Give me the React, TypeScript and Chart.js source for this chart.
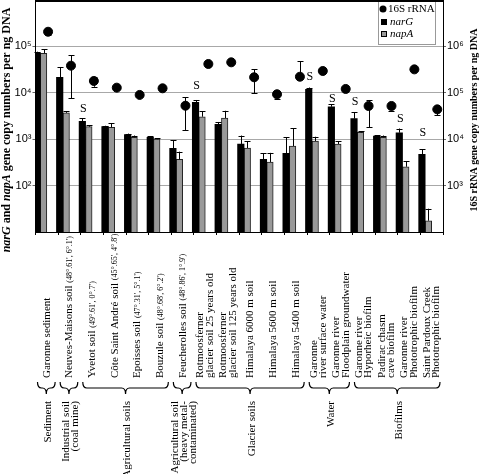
import React, { useEffect, useRef } from 'react';
import { Chart, registerables } from 'chart.js';

Chart.register(...registerables);

// ---------- data ----------
const categoryNames = [
  'Garonne sediment',
  'Neuves-Maisons soil',
  'Yvetot soil',
  'Côte Saint André soil',
  'Epoisses soil',
  'Bouzule soil',
  'Feucherolles soil',
  'Rotmoosferner|glacier soil 25 years old',
  'Rotmoosferner|glacier soil 125 years old',
  'Himalaya 6000 m soil',
  'Himalaya 5600 m soil',
  'Himalaya 5400 m soil',
  'Garonne|river surface water',
  'Garonne river|Floodplain groundwater',
  'Garonne river|Hyporheic biofilm',
  'Padirac chasm|cave biofilm',
  'Garonne river|Phototrophic biofilm',
  'Saint Pardoux Creek|Phototrophic biofilm',
];
const categoryCoords = [
  '', "(48°.61', 6°.1')", "(49°.61', 0°.7')", "(45°.65', 4°.8')", "(47°.31', 5°.1')",
  "(48°.68', 6°.2')", "(48°.86', 1°.9')", '', '', '', '', '', '', '', '', '', '', '',
];

const groupNames = [
  'Sediment',
  'Industrial soil|(coal mine)',
  'Agricultural soils',
  'Agricultural soil|(heavy metal-|contaminated)',
  'Glacier soils',
  'Water',
  'Biofilms',
];
const groupFirst = [0, 1, 2, 6, 7, 12, 14];
const groupLast = [0, 1, 5, 6, 11, 13, 17];

const narG = [7.3e4, 2.16e4, 2.43e3, 1.86e3, 1.25e3, 1.1e3, 637, 6.2e3, 2.1e3, 789, 369, 497, 1.19e4, 5.0e3, 2.77e3, 1.17e3, 1.38e3, 472];
const narGHigh = [7.7e4, 3.6e4, 2.8e3, 1.95e3, 1.32e3, 1.15e3, 960, 7.0e3, 2.35e3, 1.2e3, 497, 1.11e3, 1.3e4, 5.6e3, 3.8e3, 1.22e3, 1.7e3, 610];
const napA = [7.1e4, 3.7e3, 1.86e3, 1.8e3, 1.1e3, 1.0e3, 369, 3.05e3, 2.86e3, 646, 323, 713, 912, 789, 1.4e3, 1.1e3, 255, 17.5];
const napAHigh = [8.7e4, 4.0e3, 2.0e3, 2.2e3, 1.2e3, 1.05e3, 540, 4.0e3, 4.1e3, 912, 508, 1.74e3, 1.13e3, 900, 1.5e3, 1.2e3, 338, 31.8];

const rrna16S = [2.07e6, 3.84e5, 1.8e5, 1.29e5, 9.0e4, 1.25e5, 5.27e4, 4.18e5, 4.54e5, 2.16e5, 9.3e4, 2.22e5, 2.95e5, 1.21e5, 5.2e4, 5.2e4, 3.2e5, 4.4e4];
const rrnaLow = [1.73e6, 7.6e4, 1.35e5, 1.2e5, 8.5e4, 1.15e5, 1.58e4, 3.7e5, 4.3e5, 9.8e4, 7.5e4, 2.0e5, 2.8e5, 1.15e5, 1.8e4, 4.14e4, 3.0e5, 3.3e4];
const rrnaHigh = [2.3e6, 6.5e5, 2.2e5, 1.35e5, 9.5e4, 1.3e5, 8.0e4, 4.4e5, 4.7e5, 3.2e5, 1.0e5, 4.84e5, 3.1e5, 1.27e5, 7.0e4, 5.6e4, 3.3e5, 4.6e4];

const sCategory = [2, 7, 12, 13, 14, 16, 17];
const sLevel = [4.5e3, 1.4e4, 2.19e4, 7.3e3, 6.3e3, 2.7e3, 1.36e3];

const leftTicks = [1e2, 1e3, 1e4, 1e5];
const rightTicks = [1e3, 1e4, 1e5, 1e6];

const SUP: Record<string, string> = { '1': '¹', '2': '²', '3': '³', '4': '⁴', '5': '⁵', '6': '⁶', '7': '⁷' };
const powLabel = (v: number) => '10' + SUP[String(Math.round(Math.log10(v)))];

const SERIF = '"Liberation Serif", "Times New Roman", serif';
const SANS = '"Liberation Sans", Arial, sans-serif';

const decorPlugin = {
  id: 'decor',
  afterDatasetsDraw(chart: any) {
    const ctx: CanvasRenderingContext2D = chart.ctx;
    const y = chart.scales.y;
    const y2 = chart.scales.y2;
    ctx.save();
    ctx.strokeStyle = '#000';
    ctx.lineWidth = 1;
    const vline = (x: number, a: number, b: number) => {
      const xx = Math.round(x) + 0.5;
      ctx.beginPath();
      ctx.moveTo(xx, a);
      ctx.lineTo(xx, b);
      ctx.stroke();
    };
    const cap = (x: number, yy: number, w: number) => {
      const ry = Math.round(yy) + 0.5;
      ctx.beginPath();
      ctx.moveTo(Math.round(x) - w + 0.5, ry);
      ctx.lineTo(Math.round(x) + w + 0.5, ry);
      ctx.stroke();
    };
    [0, 1].forEach((di) => {
      const meta = chart.getDatasetMeta(di);
      const highs = di === 0 ? narGHigh : napAHigh;
      meta.data.forEach((bar: any, i: number) => {
        const yt = y.getPixelForValue(highs[i]);
        vline(bar.x, bar.y, yt);
        cap(bar.x, yt, 3);
      });
    });
    const m2 = chart.getDatasetMeta(2);
    m2.data.forEach((pt: any, i: number) => {
      const yl = y2.getPixelForValue(rrnaLow[i]);
      const yh = y2.getPixelForValue(rrnaHigh[i]);
      vline(pt.x, yl, yh);
      cap(pt.x, yl, 3);
      cap(pt.x, yh, 3);
    });
    // S markers
    const m0 = chart.getDatasetMeta(0);
    ctx.fillStyle = '#000';
    ctx.font = `12px ${SERIF}`;
    ctx.textAlign = 'center';
    ctx.textBaseline = 'middle';
    sCategory.forEach((ci, k) => {
      ctx.fillText('S', m0.data[ci].x + 1, y.getPixelForValue(sLevel[k]));
    });
    ctx.restore();
  },
  afterDraw(chart: any) {
    const ctx: CanvasRenderingContext2D = chart.ctx;
    const ca = chart.chartArea;
    const xs = chart.scales.x;
    ctx.save();
    // top frame
    ctx.fillStyle = '#000';
    ctx.fillRect(ca.left, ca.top, ca.right - ca.left + 1, 2);

    // legend
    const lx = 378, ly = 0;
    ctx.fillStyle = '#fff';
    ctx.fillRect(lx, ly, 57, 44);
    ctx.strokeStyle = '#999';
    ctx.lineWidth = 1;
    ctx.strokeRect(lx + 0.5, ly + 0.5, 57, 44);
    ctx.fillStyle = '#000';
    ctx.fillRect(lx, 0, 58, 2);
    ctx.beginPath();
    ctx.arc(lx + 5, ly + 9, 3.5, 0, Math.PI * 2);
    ctx.fill();
    ctx.fillRect(lx + 3, ly + 19, 6, 6);
    ctx.fillStyle = '#999';
    ctx.fillRect(lx + 3, ly + 31, 6, 6);
    ctx.strokeStyle = '#000';
    ctx.strokeRect(lx + 3.5, ly + 31.5, 5, 5);
    ctx.fillStyle = '#000';
    ctx.textAlign = 'left';
    ctx.textBaseline = 'middle';
    ctx.font = `11px ${SERIF}`;
    ctx.fillText('16S rRNA', lx + 10, ly + 9);
    ctx.font = `italic 11px ${SERIF}`;
    ctx.fillText('narG', lx + 12, ly + 22);
    ctx.fillText('napA', lx + 12, ly + 34.5);

    // category labels
    const labelBase = 378;
    categoryNames.forEach((name, i) => {
      const cx = xs.getPixelForValue(i);
      const lines = name.split('|');
      const n = lines.length;
      lines.forEach((ln, j) => {
        ctx.save();
        ctx.translate(cx + (j - (n - 1) / 2) * 9.5, labelBase);
        ctx.rotate(-Math.PI / 2);
        ctx.textAlign = 'left';
        ctx.textBaseline = 'middle';
        ctx.font = `11px ${SERIF}`;
        ctx.fillText(ln, 0, 0);
        if (j === n - 1 && categoryCoords[i]) {
          const w = ctx.measureText(ln + ' ').width;
          ctx.font = `8px ${SERIF}`;
          ctx.fillText(categoryCoords[i], w, 0.5);
        }
        ctx.restore();
      });
    });

    // brackets + group labels
    const half = (xs.getPixelForValue(1) - xs.getPixelForValue(0)) / 2;
    ctx.strokeStyle = '#000';
    ctx.lineWidth = 1.2;
    groupNames.forEach((g, k) => {
      const x1 = xs.getPixelForValue(groupFirst[k]) - half + 2;
      const x2 = xs.getPixelForValue(groupLast[k]) + half - 3;
      const mid = (x1 + x2) / 2;
      const yTop = 382, yMid = 388, yTip = 394, r = 4;
      ctx.beginPath();
      ctx.moveTo(x1, yTop);
      ctx.quadraticCurveTo(x1, yMid, x1 + r, yMid);
      ctx.lineTo(mid - r, yMid);
      ctx.quadraticCurveTo(mid, yMid, mid, yTip);
      ctx.quadraticCurveTo(mid, yMid, mid + r, yMid);
      ctx.lineTo(x2 - r, yMid);
      ctx.quadraticCurveTo(x2, yMid, x2, yTop);
      ctx.stroke();

      const lines = g.split('|');
      const n = lines.length;
      lines.forEach((ln, j) => {
        ctx.save();
        ctx.translate(mid + 2 + (j - (n - 1) / 2) * 9.3, 401);
        ctx.rotate(-Math.PI / 2);
        ctx.textAlign = 'right';
        ctx.textBaseline = 'middle';
        ctx.fillStyle = '#000';
        ctx.font = `11px ${SERIF}`;
        ctx.fillText(ln, 0, 0);
        ctx.restore();
      });
    });

    // axis titles
    const drawParts = (parts: [string, boolean][], cx: number, cy: number, size: number) => {
      ctx.save();
      ctx.translate(cx, cy);
      ctx.rotate(-Math.PI / 2);
      ctx.textBaseline = 'middle';
      ctx.textAlign = 'left';
      ctx.fillStyle = '#000';
      let total = 0;
      parts.forEach(([t, it]) => {
        ctx.font = `${it ? 'italic ' : ''}bold ${size}px ${SERIF}`;
        total += ctx.measureText(t).width;
      });
      let x = -total / 2;
      parts.forEach(([t, it]) => {
        ctx.font = `${it ? 'italic ' : ''}bold ${size}px ${SERIF}`;
        ctx.fillText(t, x, 0);
        x += ctx.measureText(t).width;
      });
      ctx.restore();
    };
    drawParts([['narG', true], [' and ', false], ['napA', true], [' gene copy numbers per ng DNA', false]], 7, 130, 12);
    drawParts([['16S rRNA gene copy numbers per ng DNA', false]], 474, 120, 10);
    ctx.restore();
  },
};

export default function App() {
  const canvasRef = useRef<HTMLCanvasElement | null>(null);
  useEffect(() => {
    if (!canvasRef.current) return;
    const chart = new Chart(canvasRef.current, {
      type: 'bar',
      data: {
        labels: categoryNames,
        datasets: [
          {
            label: 'narG',
            data: narG,
            backgroundColor: '#000',
            borderColor: '#000',
            borderWidth: 0,
            xAxisID: 'x',
            yAxisID: 'y',
            barThickness: 6.5,
          } as any,
          {
            label: 'napA',
            data: napA,
            backgroundColor: '#999',
            borderColor: '#222',
            borderWidth: 1,
            xAxisID: 'x',
            yAxisID: 'y',
            barThickness: 6.5,
          } as any,
          {
            type: 'scatter',
            label: '16S rRNA',
            data: rrna16S.map((v, i) => ({ x: i, y: v })),
            xAxisID: 'xd',
            yAxisID: 'y2',
            pointRadius: 4.5,
            pointBackgroundColor: '#000',
            pointBorderColor: '#000',
            showLine: false,
          } as any,
        ],
      },
      options: {
        responsive: false,
        animation: false,
        devicePixelRatio: 1,
        layout: { autoPadding: false, padding: { left: 0, right: 0, top: 0, bottom: 0 } },
        plugins: { legend: { display: false }, tooltip: { enabled: false } },
        scales: {
          x: {
            type: 'category',
            offset: true,
            grid: { display: true, offset: true, drawOnChartArea: false, drawTicks: true, tickLength: 3, color: '#000' },
            border: { display: true, color: '#000', width: 1 },
            ticks: { display: false },
            afterFit: (s: any) => {
              s.height = 242;
              s.paddingLeft = 0;
              s.paddingRight = 0;
            },
          },
          xd: { type: 'linear', display: false, offset: false, min: -0.55, max: 17.25, grid: { offset: false } },
          y: {
            type: 'logarithmic',
            position: 'left',
            min: 10,
            max: 1e6,
            afterBuildTicks: (s: any) => {
              s.ticks = leftTicks.map((v) => ({ value: v }));
            },
            ticks: {
              callback: (v: any) => powLabel(Number(v)),
              font: { family: SANS, size: 11 },
              color: '#000',
              padding: 1,
              autoSkip: false,
            },
            grid: { color: '#a8a8a8', tickLength: 3, tickColor: '#666', lineWidth: 1 },
            border: { display: true, color: '#000', width: 1 },
            afterFit: (s: any) => {
              s.width = 35.5;
              s.paddingTop = 0;
              s.paddingBottom = 0;
            },
          },
          y2: {
            type: 'logarithmic',
            position: 'right',
            min: 100,
            max: 1e7,
            afterBuildTicks: (s: any) => {
              s.ticks = rightTicks.map((v) => ({ value: v }));
            },
            ticks: {
              callback: (v: any) => powLabel(Number(v)),
              font: { family: SANS, size: 11 },
              color: '#000',
              padding: 1,
              autoSkip: false,
            },
            grid: { drawOnChartArea: false, tickLength: 3, color: '#666' },
            border: { display: true, color: '#000', width: 1 },
            afterFit: (s: any) => {
              s.width = 37;
              s.paddingTop = 0;
              s.paddingBottom = 0;
            },
          },
        },
      } as any,
      plugins: [decorPlugin as any],
    });
    return () => chart.destroy();
  }, []);

  return (
    <div style={{ position: 'absolute', left: 0, top: 0, width: 480, height: 474, background: '#fff' }}>
      <canvas ref={canvasRef} width={480} height={474} style={{ display: 'block', width: 480, height: 474 }} />
    </div>
  );
}
